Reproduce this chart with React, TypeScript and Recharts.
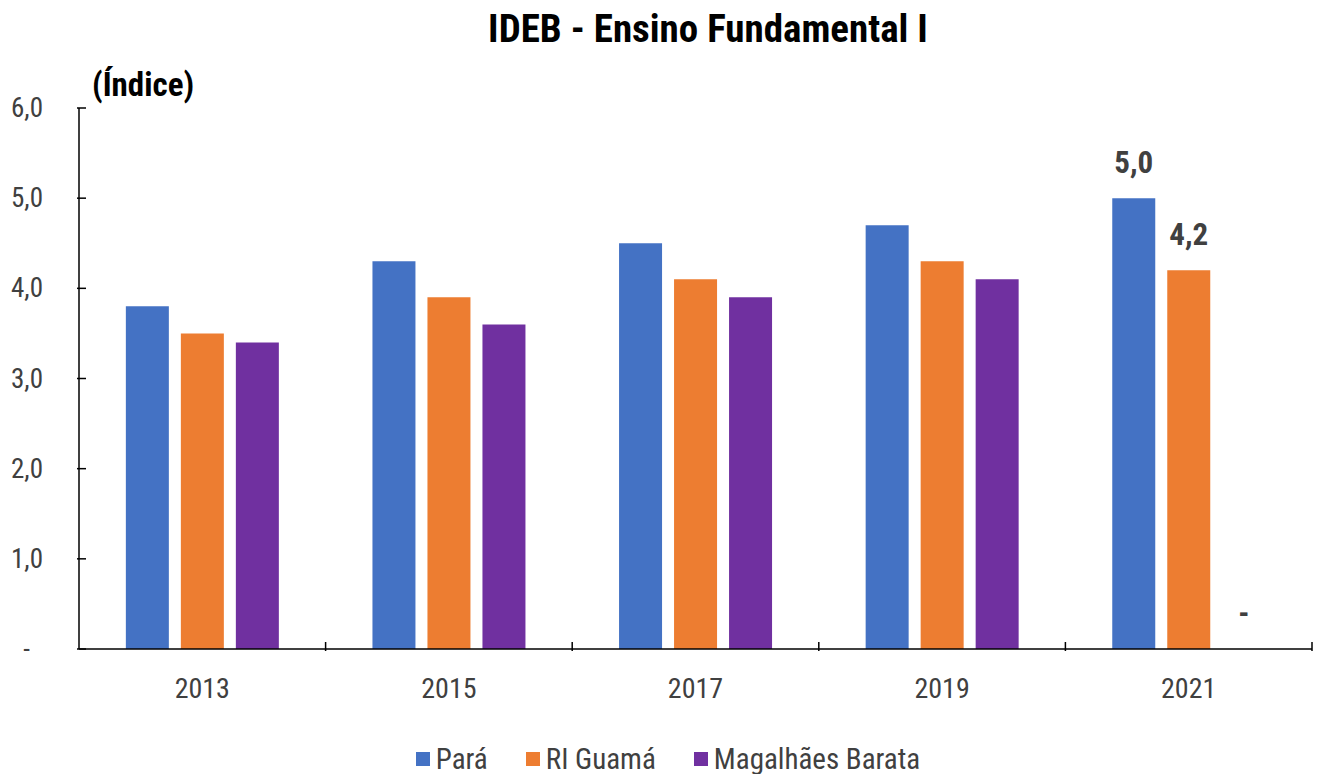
import { BarChart, Bar, XAxis, YAxis, LabelList } from 'recharts';

const years = ['2013', '2015', '2017', '2019', '2021'];
const para = [3.8, 4.3, 4.5, 4.7, 5.0];
const riGuama = [3.5, 3.9, 4.1, 4.3, 4.2];
const magalhaes = [3.4, 3.6, 3.9, 4.1, 0];
const yTicks = [0, 1, 2, 3, 4, 5, 6];
const seriesNames = ['Pará', 'RI Guamá', 'Magalhães Barata'];
const colors = ['#4472C4', '#ED7D31', '#7030A0'];
const labeledIndex = 4; // only 2021 gets value labels

const data = years.map((ano, i) => ({
  ano,
  para: para[i],
  riGuama: riGuama[i],
  magalhaes: magalhaes[i],
}));

const FONT = "'Liberation Sans Narrow', 'Arial Narrow', 'Roboto Condensed', sans-serif";
const fmt = (v: number) => (v === 0 ? '-' : v.toFixed(1).replace('.', ','));
const BAND = 1233 / years.length;

const YTick = (props: any) => {
  const { x, y, payload } = props;
  const v = payload.value;
  return (
    <g>
      <line x1={x} x2={x + 9} y1={y} y2={y} stroke="#000" strokeWidth={1.5} />
      <text x={v === 0 ? x - 47 : x - 34} y={y} dy={9} textAnchor="end" fill="#404040" fontSize={27} fontFamily={FONT}>
        {fmt(v)}
      </text>
    </g>
  );
};

const XTick = (props: any) => {
  const { x, y, payload } = props;
  return (
    <g>
      <line x1={x + BAND / 2} x2={x + BAND / 2} y1={y} y2={y - 9} stroke="#000" strokeWidth={1.5} />
      <text x={x} y={y} dy={47} textAnchor="middle" fill="#404040" fontSize={28} fontFamily={FONT}>
        {payload.value}
      </text>
    </g>
  );
};

const ValueLabel = (props: any) => {
  const { x, y, width, value, index } = props;
  if (index !== labeledIndex) return null;
  return (
    <text x={x + width / 2} y={y - 25} textAnchor="middle" fill="#404040" fontSize={31} fontWeight="bold" fontFamily={FONT}>
      {fmt(value)}
    </text>
  );
};

export default function App() {
  return (
    <div style={{ position: 'relative', width: 1320, height: 774, background: '#fff', fontFamily: FONT }}>
      <style>{'body{margin:0}'}</style>
      <div style={{ position: 'absolute', top: 6, left: 0, width: 1416, textAlign: 'center', fontSize: 39, fontWeight: 'bold', color: '#000' }}>
        IDEB - Ensino Fundamental I
      </div>
      <div style={{ position: 'absolute', top: 65, left: 92, fontSize: 33, fontWeight: 'bold', color: '#000' }}>
        (Índice)
      </div>
      <BarChart
        width={1320}
        height={774}
        data={data}
        margin={{ top: 108, right: 8, bottom: 0, left: 0 }}
        barCategoryGap="19%"
        barGap={12}
      >
        <XAxis dataKey="ano" axisLine={{ stroke: '#000', strokeWidth: 1.5 }} tickLine={false} tickSize={0} tick={<XTick />} interval={0} height={125} />
        <YAxis domain={[0, 6]} ticks={yTicks} axisLine={{ stroke: '#000', strokeWidth: 1.5 }} tickLine={false} tickSize={0} tick={<YTick />} width={79} />
        <Bar dataKey="para" name={seriesNames[0]} fill={colors[0]} isAnimationActive={false}>
          <LabelList dataKey="para" content={<ValueLabel />} />
        </Bar>
        <Bar dataKey="riGuama" name={seriesNames[1]} fill={colors[1]} isAnimationActive={false}>
          <LabelList dataKey="riGuama" content={<ValueLabel />} />
        </Bar>
        <Bar dataKey="magalhaes" name={seriesNames[2]} fill={colors[2]} minPointSize={0.01} isAnimationActive={false}>
          <LabelList dataKey="magalhaes" content={<ValueLabel />} />
        </Bar>
      </BarChart>
      <div style={{ position: 'absolute', top: 742, left: 8, width: 1320, display: 'flex', justifyContent: 'center', gap: 38, fontSize: 29, color: '#404040' }}>
        {seriesNames.map((n, i) => (
          <div key={n} style={{ display: 'flex', alignItems: 'center', gap: 6 }}>
            <span style={{ width: 14, height: 14, background: colors[i], display: 'inline-block' }} />
            <span>{n}</span>
          </div>
        ))}
      </div>
    </div>
  );
}
